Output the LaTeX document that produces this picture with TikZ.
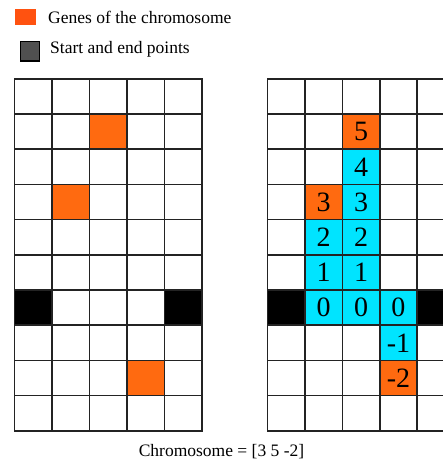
\documentclass[tikz,border=0pt]{standalone}
\usepackage{fontspec}
\setmainfont{Liberation Serif}
\definecolor{gene}{RGB}{255,106,16}
\definecolor{legorange}{RGB}{255,82,16}
\definecolor{pathc}{RGB}{0,228,255}
\definecolor{gridc}{RGB}{35,35,35}
\definecolor{leggray}{RGB}{80,80,80}
\expandafter\def\csname rt15\endcsname{5}
\expandafter\def\csname rt25\endcsname{4}
\expandafter\def\csname rt34\endcsname{3}
\expandafter\def\csname rt35\endcsname{3}
\expandafter\def\csname rt44\endcsname{2}
\expandafter\def\csname rt45\endcsname{2}
\expandafter\def\csname rt54\endcsname{1}
\expandafter\def\csname rt55\endcsname{1}
\expandafter\def\csname rt64\endcsname{0}
\expandafter\def\csname rt65\endcsname{0}
\expandafter\def\csname rt66\endcsname{0}
\expandafter\def\csname rt76\endcsname{-1}
\expandafter\def\csname rt86\endcsname{-2}
\begin{document}
\begin{tikzpicture}[x=1pt,y=-1pt,
  cell/.style={draw=gridc, line width=1.6pt, fill=white, minimum width=37.5pt,
    minimum height=35.2pt, inner sep=0pt, anchor=north west,
    font=\fontsize{28}{28}\selectfont},
  genecell/.style={fill=gene},
  pathcell/.style={fill=pathc},
  endcell/.style={fill=black},
  legtext/.style={anchor=base west, inner sep=0pt, font=\fontsize{17.5}{18}\selectfont},
  % left grid (columns 0..4)
  L12/.style={genecell}, L31/.style={genecell}, L83/.style={genecell},
  L60/.style={endcell}, L64/.style={endcell},
  % right grid (columns 3..7 stored as 3+col)
  R15/.style={genecell}, R25/.style={pathcell}, R34/.style={genecell},
  R35/.style={pathcell}, R44/.style={pathcell}, R45/.style={pathcell},
  R54/.style={pathcell}, R55/.style={pathcell}, R63/.style={endcell},
  R64/.style={pathcell}, R65/.style={pathcell}, R66/.style={pathcell},
  R67/.style={endcell}, R76/.style={pathcell}, R86/.style={genecell}]
\useasboundingbox (0,0) rectangle (443,459);
\begin{scope}
\clip (0,0) rectangle (443,459);
% left grid
\foreach \row in {0,...,9}{
  \foreach \col in {0,...,4}{
    \node[cell, L\row\col/.try] (L-\row-\col) at ({13.5+37.5*\col},{78+35.2*\row}) {};
  }
}
% right grid
\foreach \row in {0,...,9}{
  \foreach \col in {3,...,7}{
    \node[cell, R\row\col/.try] (R-\row-\col) at ({266.7+37.4*(\col-3)},{78+35.2*\row}) {\csname rt\row\col\endcsname};
  }
}
\end{scope}
% legend
\node[fill=legorange, minimum width=21pt, minimum height=16pt, inner sep=0pt, anchor=north west] (legA) at (15,9) {};
\node[legtext] (legAt) at (48,23) {Genes of the chromosome};
\node[fill=leggray, draw=black, line width=1.5pt, minimum width=19pt, minimum height=19.5pt, inner sep=0pt, anchor=north west] (legB) at (19.5,40.5) {};
\node[legtext] (legBt) at (50,53.5) {Start and end points};
% caption
\node[anchor=base, inner sep=0pt, font=\fontsize{17.5}{18}\selectfont] (cap) at (221.5,456.5) {Chromosome = [3 5 -2]};
\end{tikzpicture}
\end{document}
